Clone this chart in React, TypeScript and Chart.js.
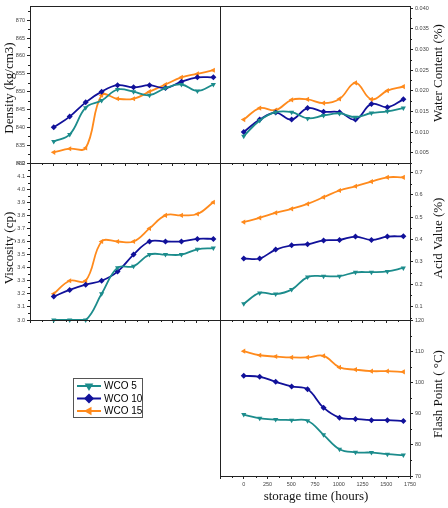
import { useEffect, useRef } from "react";
import { Chart, registerables } from "chart.js";

Chart.register(...registerables);

// Storage time in hours (one sample per week)
const hours = [0, 168, 336, 504, 672, 840, 1008, 1176, 1344, 1512, 1680];
const seriesNames = ["WCO 5", "WCO 10", "WCO 15"];

// Density (kg/cm3)
const densityWco5 = [836, 838, 845.5, 847.5, 850.6, 850, 849, 851, 852, 850.2, 852];
const densityWco10 = [840, 843, 847, 850, 851.8, 851.2, 851.8, 851, 852.8, 854, 854];
const densityWco15 = [833, 834, 834.2, 849, 848, 848, 850, 852, 854, 855, 856];

// Water content (%)
const waterWco5 = [0.009, 0.0128, 0.0148, 0.0148, 0.0133, 0.014, 0.0145, 0.0136, 0.0146, 0.015, 0.0158];
const waterWco10 = [0.01, 0.013, 0.0147, 0.013, 0.0158, 0.0149, 0.0148, 0.013, 0.0168, 0.016, 0.0179];
const waterWco15 = [0.013, 0.0158, 0.0153, 0.0178, 0.0179, 0.017, 0.018, 0.0219, 0.0179, 0.02, 0.021];

// Viscosity (cp)
const viscWco5 = [3.0, 3.0, 3.0, 3.2, 3.4, 3.41, 3.5, 3.5, 3.5, 3.54, 3.55];
const viscWco10 = [3.18, 3.23, 3.27, 3.3, 3.37, 3.5, 3.6, 3.6, 3.6, 3.62, 3.62];
const viscWco15 = [3.2, 3.3, 3.3, 3.6, 3.6, 3.6, 3.7, 3.8, 3.8, 3.81, 3.9];

// Acid value (%)
const acidWco5 = [0.113, 0.161, 0.156, 0.176, 0.232, 0.236, 0.236, 0.253, 0.254, 0.257, 0.273];
const acidWco10 = [0.315, 0.315, 0.355, 0.374, 0.379, 0.396, 0.398, 0.413, 0.398, 0.413, 0.414];
const acidWco15 = [0.478, 0.497, 0.519, 0.537, 0.559, 0.589, 0.619, 0.638, 0.659, 0.678, 0.678];

// Flash point (°C)
const flashWco5 = [89.7, 88.5, 88.1, 87.9, 87.7, 83.2, 78.6, 77.6, 77.5, 77.0, 76.7];
const flashWco10 = [102.1, 101.8, 100.2, 98.7, 97.8, 91.9, 88.7, 88.3, 87.9, 87.9, 87.6];
const flashWco15 = [110, 108.7, 108.3, 108.0, 108.0, 108.5, 104.8, 104.1, 103.6, 103.6, 103.4];

const COLORS = ["#1c8c8c", "#11119a", "#ff8a1c"];
const MARKERS = [
  { style: "triangle", rotation: 180 },
  { style: "rectRot", rotation: 0 },
  { style: "triangle", rotation: 270 },
];

const W = 448;
const H = 508;
const AXIS_W = 30;
const AXIS_H = 22;
const INK = "#222";
const TICK_FONT = { family: "Liberation Sans", size: 5.5 };

type PanelDef = {
  id: string;
  title: string;
  titlePos: [number, number];
  side: "left" | "right";
  box: [number, number, number, number];
  yMin: number;
  yMax: number;
  yStep: number;
  decimals: number;
  series: number[][];
  xLabels: boolean;
  legend?: boolean;
};

const panels: PanelDef[] = [
  { id: "density", title: "Density (kg/cm3)", titlePos: [10, 88], side: "left", box: [30, 6, 220, 163],
    yMin: 830, yMax: 874, yStep: 5, decimals: 0, series: [densityWco5, densityWco10, densityWco15], xLabels: false },
  { id: "water", title: "Water Content (%)", titlePos: [439, 73], side: "right", box: [220, 6, 410, 163],
    yMin: 0.0025, yMax: 0.0405, yStep: 0.005, decimals: 3, series: [waterWco5, waterWco10, waterWco15], xLabels: false },
  { id: "viscosity", title: "Viscosity (cp)", titlePos: [10, 248], side: "left", box: [30, 163, 220, 320],
    yMin: 3.0, yMax: 4.2, yStep: 0.1, decimals: 1, series: [viscWco5, viscWco10, viscWco15], xLabels: false },
  { id: "acid", title: "Acid Value (%)", titlePos: [439, 238], side: "right", box: [220, 163, 410, 320],
    yMin: 0.04, yMax: 0.742, yStep: 0.1, decimals: 1, series: [acidWco5, acidWco10, acidWco15], xLabels: false },
  { id: "flash", title: "Flash Point ( °C)", titlePos: [439, 394], side: "right", box: [220, 320, 410, 476],
    yMin: 70, yMax: 120, yStep: 10, decimals: 0, series: [flashWco5, flashWco10, flashWco15], xLabels: true, legend: true },
];

// Closed frame around the plot area plus half-step minor ticks on every axis
const frameTicks = {
  id: "frameTicks",
  afterDraw(chart: any) {
    const { ctx, chartArea: a } = chart;
    ctx.save();
    ctx.strokeStyle = INK;
    ctx.lineWidth = 1;
    ctx.strokeRect(Math.round(a.left) + 0.5, Math.round(a.top) + 0.5, Math.round(a.right - a.left), Math.round(a.bottom - a.top));
    for (const scale of Object.values(chart.scales) as any[]) {
      const step = scale.options.ticks.stepSize / 2;
      const k0 = Math.ceil(scale.min / step - 1e-6);
      const k1 = Math.floor(scale.max / step + 1e-6);
      for (let k = k0; k <= k1; k++) {
        if (k % 2 === 0) continue;
        const p = Math.round(scale.getPixelForValue(k * step)) + 0.5;
        ctx.beginPath();
        if (scale.axis === "x") {
          ctx.moveTo(p, a.bottom);
          ctx.lineTo(p, a.bottom + 2);
        } else if (scale.position === "left") {
          ctx.moveTo(a.left, p);
          ctx.lineTo(a.left - 2, p);
        } else {
          ctx.moveTo(a.right, p);
          ctx.lineTo(a.right + 2, p);
        }
        ctx.stroke();
      }
    }
    ctx.restore();
  },
};

// Axis titles in a serif face; vertical ones read bottom-to-top on both sides
const panelTitles = {
  id: "panelTitles",
  afterDraw(chart: any, _args: any, opts: any) {
    const { ctx } = chart;
    for (const t of opts.items || []) {
      ctx.save();
      ctx.translate(t.x, t.y);
      if (t.vertical) ctx.rotate(-Math.PI / 2);
      ctx.font = `${t.size}px "Liberation Serif"`;
      ctx.fillStyle = "#111";
      ctx.textAlign = "center";
      ctx.textBaseline = "middle";
      ctx.fillText(t.text, 0, 0);
      ctx.restore();
    }
  },
};

function drawMarker(ctx: CanvasRenderingContext2D, style: string, rotation: number, x: number, y: number, r: number) {
  ctx.save();
  ctx.translate(x, y);
  ctx.rotate((rotation * Math.PI) / 180);
  ctx.beginPath();
  if (style === "rectRot") {
    ctx.moveTo(0, -r);
    ctx.lineTo(r, 0);
    ctx.lineTo(0, r);
    ctx.lineTo(-r, 0);
  } else {
    ctx.moveTo(0, -r);
    ctx.lineTo(r * 0.866, r * 0.5);
    ctx.lineTo(-r * 0.866, r * 0.5);
  }
  ctx.closePath();
  ctx.fill();
  ctx.restore();
}

// Boxed legend placed in the empty lower-left cell
const boxLegend = {
  id: "boxLegend",
  afterDraw(chart: any, _args: any, opts: any) {
    if (!opts.show) return;
    const { ctx } = chart;
    const { x, y, w, h } = opts;
    ctx.save();
    ctx.strokeStyle = "#555";
    ctx.lineWidth = 1;
    ctx.strokeRect(x + 0.5, y + 0.5, w, h);
    ctx.font = '10px "Liberation Sans"';
    ctx.textBaseline = "middle";
    chart.data.datasets.forEach((ds: any, i: number) => {
      const ry = y + 8 + i * 12.5;
      ctx.strokeStyle = ds.borderColor;
      ctx.fillStyle = ds.borderColor;
      ctx.lineWidth = 2;
      ctx.beginPath();
      ctx.moveTo(x + 4, ry);
      ctx.lineTo(x + 28, ry);
      ctx.stroke();
      drawMarker(ctx, ds.pointStyle, ds.pointRotation, x + 16, ry, 5);
      ctx.fillStyle = "#000";
      ctx.fillText(ds.label, x + 31, ry + 0.5);
    });
    ctx.restore();
  },
};

function buildConfig(p: PanelDef): any {
  const [left, top, right, bottom] = p.box;
  const padding =
    p.side === "left"
      ? { left: left - AXIS_W, right: W - right, top, bottom: H - bottom - AXIS_H }
      : { left, right: W - right - AXIS_W, top, bottom: H - bottom - AXIS_H };

  const datasets = p.series.map((vals, i) => ({
    label: seriesNames[i],
    data: hours.map((h, j) => ({ x: h, y: vals[j] })),
    borderColor: COLORS[i],
    backgroundColor: COLORS[i],
    borderWidth: 1.8,
    pointStyle: MARKERS[i].style,
    pointRotation: MARKERS[i].rotation,
    pointRadius: 3,
    pointBorderWidth: 0,
    tension: 0.4,
    clip: false,
  }));

  const titles: any[] = [{ text: p.title, x: p.titlePos[0], y: p.titlePos[1], size: 13, vertical: true }];
  if (p.xLabels) titles.push({ text: "storage time (hours)", x: 316, y: 497, size: 13, vertical: false });

  const step = p.yStep;
  return {
    type: "line",
    data: { datasets },
    plugins: [frameTicks, panelTitles, boxLegend],
    options: {
      responsive: false,
      animation: false,
      events: [],
      layout: { padding, autoPadding: false },
      plugins: {
        legend: { display: false },
        tooltip: { enabled: false },
        title: { display: false },
        panelTitles: { items: titles },
        boxLegend: { show: !!p.legend, x: 73, y: 378, w: 69, h: 39 },
      },
      scales: {
        x: {
          type: "linear",
          position: "bottom",
          min: -250,
          max: 1750,
          ticks: {
            stepSize: 250,
            display: p.xLabels,
            autoSkip: false,
            maxRotation: 0,
            padding: 2,
            font: TICK_FONT,
            color: "#444",
            callback: (v: number) => (v < 0 ? "" : String(v)),
          },
          grid: { drawOnChartArea: false, drawTicks: true, tickLength: 3, color: INK },
          border: { display: true, color: INK },
          afterFit: (s: any) => {
            s.height = AXIS_H;
          },
        },
        y: {
          type: "linear",
          position: p.side,
          min: p.yMin,
          max: p.yMax,
          ticks: {
            stepSize: step,
            padding: 2,
            font: TICK_FONT,
            color: "#444",
            callback: (v: number) => Number(v).toFixed(p.decimals),
          },
          // major ticks only at whole multiples of the step inside the range
          afterBuildTicks: (s: any) => {
            const out: { value: number }[] = [];
            const k0 = Math.ceil(s.min / step - 1e-6);
            const k1 = Math.floor(s.max / step + 1e-6);
            for (let k = k0; k <= k1; k++) out.push({ value: k * step });
            s.ticks = out;
          },
          grid: { drawOnChartArea: false, drawTicks: true, tickLength: 3, color: INK },
          border: { display: true, color: INK },
          afterFit: (s: any) => {
            s.width = AXIS_W;
          },
        },
      },
    },
  };
}

function PanelChart({ def }: { def: PanelDef }) {
  const ref = useRef<HTMLCanvasElement>(null);
  useEffect(() => {
    const chart = new Chart(ref.current as HTMLCanvasElement, buildConfig(def));
    return () => chart.destroy();
  }, [def]);
  return (
    <canvas
      ref={ref}
      width={W}
      height={H}
      style={{ position: "absolute", left: 0, top: 0, width: W, height: H }}
    />
  );
}

export default function App() {
  return (
    <div style={{ position: "fixed", left: 0, top: 0, width: W, height: H, background: "#fff" }}>
      {panels.map((p) => (
        <PanelChart key={p.id} def={p} />
      ))}
    </div>
  );
}
